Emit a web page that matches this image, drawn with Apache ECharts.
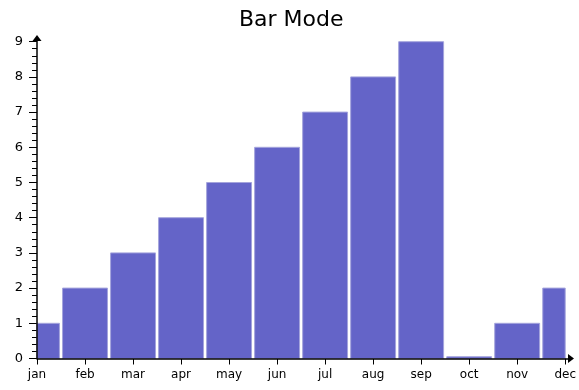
<!DOCTYPE html>
<html>
<head>
<meta charset="utf-8">
<script src="https://cdn.jsdelivr.net/npm/echarts@6/dist/echarts.min.js"></script>
<style>
  html, body { margin: 0; padding: 0; background: #fff; }
  #chart { width: 579px; height: 390px; }
</style>
</head>
<body>
<div id="chart"></div>
<script>
// Monthly values shown as bars
const months = ['jan', 'feb', 'mar', 'apr', 'may', 'jun', 'jul', 'aug', 'sep', 'oct', 'nov', 'dec'];
const values = [1, 2, 3, 4, 5, 6, 7, 8, 9, 0.05, 1, 2];
const yTicks = [0, 1, 2, 3, 4, 5, 6, 7, 8, 9];

const font = 'DejaVu Sans';
const barFill = '#6464c8';
const barEdge = '#a4a4dc';
const barRatio = 0.935; // share of a month step taken by a bar

const chart = echarts.init(document.getElementById('chart'), null, { renderer: 'canvas' });

// Bars centred on their month tick, cut off at the plot edges
function renderBar(params, api) {
  const idx = api.value(0);
  const val = api.value(1);
  const top = api.coord([idx, val]);
  const base = api.coord([idx, 0]);
  const step = api.size([1, 0])[0];
  const w = step * barRatio;
  const rect = echarts.graphic.clipRectByRect(
    { x: top[0] - w / 2, y: top[1], width: w, height: base[1] - top[1] },
    { x: params.coordSys.x, y: params.coordSys.y, width: params.coordSys.width, height: params.coordSys.height }
  );
  if (!rect) return null;
  return {
    type: 'rect',
    shape: rect,
    style: { fill: barFill, stroke: barEdge, lineWidth: 1 }
  };
}

const arrowLine = {
  show: true,
  symbol: ['none', 'triangle'],
  symbolSize: [9, 6],
  lineStyle: { color: '#000', width: 1.5 }
};

chart.setOption({
  animation: false,
  backgroundColor: '#ffffff',
  title: {
    text: 'Bar Mode',
    left: 234,
    top: 4,
    textStyle: { fontFamily: font, fontSize: 22, fontWeight: 'normal', color: '#000' }
  },
  grid: [
    // plotting area
    { left: 37, right: 12, top: 41.7, bottom: 31.5, containLabel: false },
    // slightly larger box carrying the arrowed axis lines
    { left: 37, right: 8, top: 38, bottom: 31.5, containLabel: false }
  ],
  xAxis: [
    {
      gridIndex: 0,
      type: 'category',
      data: months,
      boundaryGap: false,
      axisLine: { show: false },
      axisTick: { show: true, length: 6, lineStyle: { color: '#000', width: 1 } },
      axisLabel: { margin: 10, fontFamily: font, fontSize: 12, color: '#000' },
      splitLine: { show: false }
    },
    {
      gridIndex: 1,
      type: 'value',
      min: 0, max: 1,
      z: 5,
      axisLine: arrowLine,
      axisTick: { show: false },
      axisLabel: { show: false },
      splitLine: { show: false }
    }
  ],
  yAxis: [
    {
      gridIndex: 0,
      type: 'value',
      min: yTicks[0],
      max: yTicks[yTicks.length - 1],
      interval: 1,
      axisLine: { show: false },
      axisTick: { show: true, length: 8, lineStyle: { color: '#000', width: 1 } },
      minorTick: { show: true, splitNumber: 5, length: 5, lineStyle: { color: '#000', width: 1 } },
      axisLabel: { margin: 14, fontFamily: font, fontSize: 13, color: '#000' },
      splitLine: { show: false },
      minorSplitLine: { show: false }
    },
    {
      gridIndex: 1,
      type: 'value',
      min: 0, max: 1,
      z: 5,
      axisLine: arrowLine,
      axisTick: { show: false },
      axisLabel: { show: false },
      splitLine: { show: false }
    }
  ],
  series: [
    {
      type: 'custom',
      xAxisIndex: 0,
      yAxisIndex: 0,
      renderItem: renderBar,
      encode: { x: 0, y: 1 },
      data: values.map((v, i) => [i, v])
    }
  ]
});
</script>
</body>
</html>
